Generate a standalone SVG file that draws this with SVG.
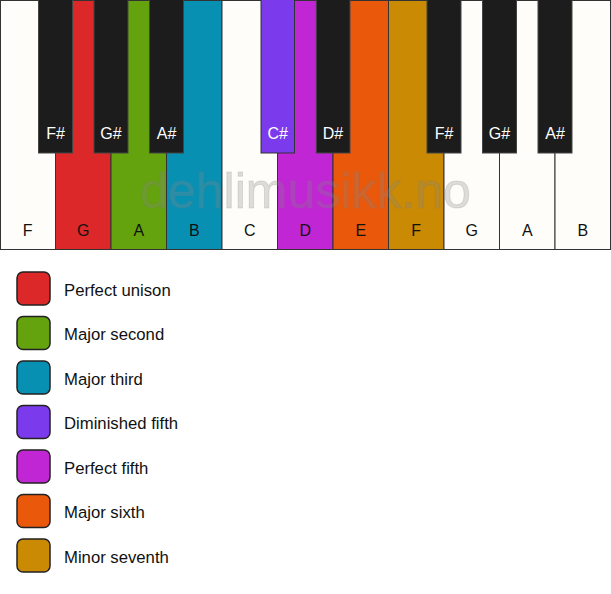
<svg xmlns="http://www.w3.org/2000/svg" width="611" height="594" viewBox="0 0 611 594">
<style>
.wk{stroke:#333;stroke-width:1}
.bk{fill:#1c1c1c;stroke:#444;stroke-width:1}
.lw{font-family:"Liberation Sans",Arial,sans-serif;font-size:16px;fill:#111;text-anchor:middle}
.lb{font-family:"Liberation Sans",Arial,sans-serif;font-size:16px;fill:#fff;text-anchor:middle}
.sw{stroke:#222;stroke-width:1.5}
.lt{font-family:"Liberation Sans",Arial,sans-serif;font-size:16.7px;fill:#111}
.wm{font-family:"Liberation Sans",Arial,sans-serif;font-size:50px;fill:#888;fill-opacity:0.28;stroke:#777;stroke-opacity:0.2;stroke-width:1;text-anchor:middle}
</style>
<rect width="611" height="594" fill="#fff"/>
<g id="white-keys">
<g id="key-F1"><rect class="wk" x="0.5" y="0.5" width="55" height="249" fill="#fffdf9"/><text class="lw" x="27.75" y="236">F</text></g>
<g id="key-G1"><rect class="wk" x="55.5" y="0.5" width="55.5" height="249" fill="#dc2828"/><text class="lw" x="83.25" y="236">G</text></g>
<g id="key-A1"><rect class="wk" x="111" y="0.5" width="55.5" height="249" fill="#64a30e"/><text class="lw" x="138.75" y="236">A</text></g>
<g id="key-B1"><rect class="wk" x="166.5" y="0.5" width="55.5" height="249" fill="#0890b3"/><text class="lw" x="194.25" y="236">B</text></g>
<g id="key-C1"><rect class="wk" x="222" y="0.5" width="55.5" height="249" fill="#fffdf9"/><text class="lw" x="249.75" y="236">C</text></g>
<g id="key-D1"><rect class="wk" x="277.5" y="0.5" width="55.5" height="249" fill="#c026d3"/><text class="lw" x="305.25" y="236">D</text></g>
<g id="key-E1"><rect class="wk" x="333" y="0.5" width="55.5" height="249" fill="#ea580c"/><text class="lw" x="360.75" y="236">E</text></g>
<g id="key-F2"><rect class="wk" x="388.5" y="0.5" width="55.5" height="249" fill="#ca8a04"/><text class="lw" x="416.25" y="236">F</text></g>
<g id="key-G2"><rect class="wk" x="444" y="0.5" width="55.5" height="249" fill="#fffdf9"/><text class="lw" x="471.75" y="236">G</text></g>
<g id="key-A2"><rect class="wk" x="499.5" y="0.5" width="55.5" height="249" fill="#fffdf9"/><text class="lw" x="527.25" y="236">A</text></g>
<g id="key-B2"><rect class="wk" x="555" y="0.5" width="55.5" height="249" fill="#fffdf9"/><text class="lw" x="582.75" y="236">B</text></g>
</g>
<text class="wm" x="305.5" y="208">dehlimusikk.no</text>
<g id="black-keys">
<g id="key-Fs1"><rect class="bk" x="38.5" y="-1" width="34" height="154"/><text class="lb" x="55.5" y="139">F#</text></g>
<g id="key-Gs1"><rect class="bk" x="94" y="-1" width="34" height="154"/><text class="lb" x="111" y="139">G#</text></g>
<g id="key-As1"><rect class="bk" x="149.5" y="-1" width="34" height="154"/><text class="lb" x="166.5" y="139">A#</text></g>
<g id="key-Cs1"><rect class="bk" x="261" y="-1" width="33.5" height="154" style="fill:#7c3aed;stroke:#333"/><text class="lb" x="277.75" y="139">C#</text></g>
<g id="key-Ds1"><rect class="bk" x="316.3" y="-1" width="33.7" height="154"/><text class="lb" x="333" y="139">D#</text></g>
<g id="key-Fs2"><rect class="bk" x="427" y="-1" width="34" height="154"/><text class="lb" x="444" y="139">F#</text></g>
<g id="key-Gs2"><rect class="bk" x="482.5" y="-1" width="34" height="154"/><text class="lb" x="499.5" y="139">G#</text></g>
<g id="key-As2"><rect class="bk" x="538" y="-1" width="34" height="154"/><text class="lb" x="555" y="139">A#</text></g>
</g>
<g id="legend">
<g id="legend-unison"><rect class="sw" x="17" y="272" width="33" height="33" rx="6" fill="#dc2828"/><text class="lt" x="64" y="295.5">Perfect unison</text></g>
<g id="legend-second"><rect class="sw" x="17" y="316.5" width="33" height="33" rx="6" fill="#64a30e"/><text class="lt" x="64" y="340">Major second</text></g>
<g id="legend-third"><rect class="sw" x="17" y="361" width="33" height="33" rx="6" fill="#0890b3"/><text class="lt" x="64" y="384.5">Major third</text></g>
<g id="legend-dimfifth"><rect class="sw" x="17" y="405.5" width="33" height="33" rx="6" fill="#7c3aed"/><text class="lt" x="64" y="429">Diminished fifth</text></g>
<g id="legend-fifth"><rect class="sw" x="17" y="450" width="33" height="33" rx="6" fill="#c026d3"/><text class="lt" x="64" y="473.5">Perfect fifth</text></g>
<g id="legend-sixth"><rect class="sw" x="17" y="494.5" width="33" height="33" rx="6" fill="#ea580c"/><text class="lt" x="64" y="518">Major sixth</text></g>
<g id="legend-seventh"><rect class="sw" x="17" y="539" width="33" height="33" rx="6" fill="#ca8a04"/><text class="lt" x="64" y="562.5">Minor seventh</text></g>
</g>
</svg>
